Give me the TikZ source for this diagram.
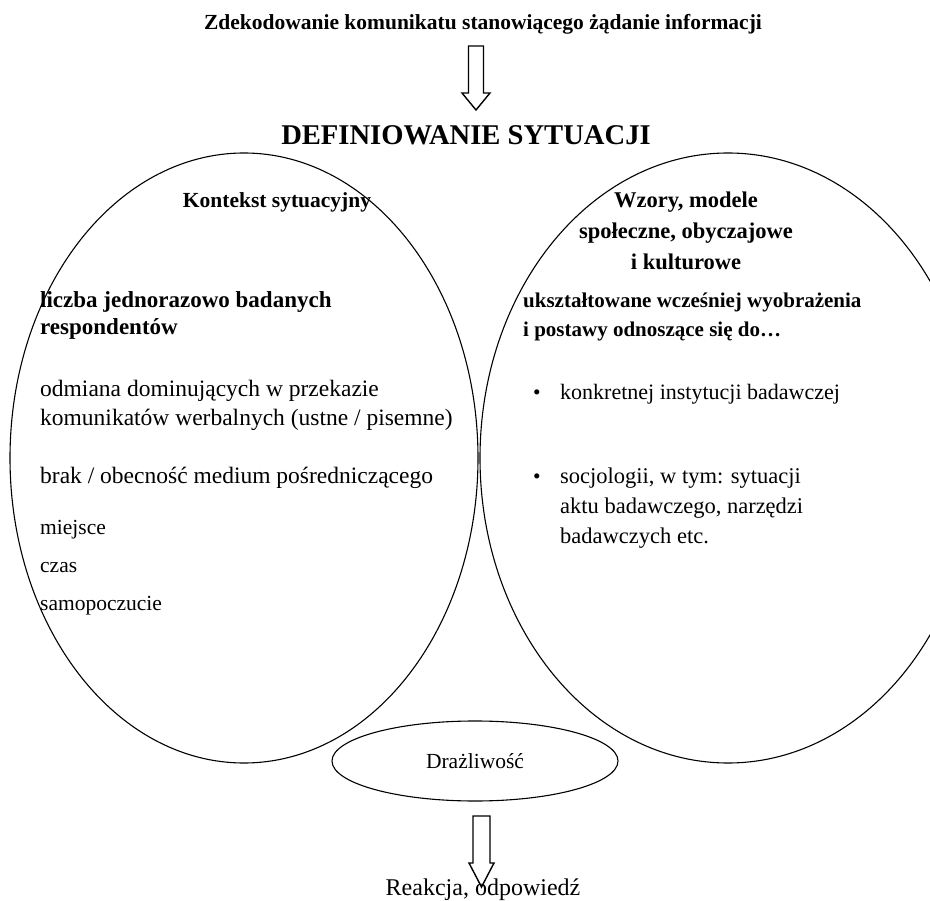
\documentclass[tikz,border=0pt]{standalone}
\usepackage{fontspec}
\setmainfont{Liberation Serif}
\usetikzlibrary{shapes.geometric,calc}

\begin{document}
\begin{tikzpicture}[x=1pt, y=-1pt,
  oval/.style={draw, ellipse, line width=1.1pt, inner sep=0pt},
  txt/.style={anchor=base west, inner sep=0pt, align=left,
              font=\fontsize{21.5}{29}\selectfont},
  bigtxt/.style={txt, font=\fontsize{23.5}{29}\selectfont},
  bold/.style={txt, font=\bfseries\fontsize{21}{29}\selectfont},
  hd/.style={anchor=base, inner sep=0pt, align=center,
             font=\bfseries\fontsize{21.5}{31}\selectfont},
  blk/.style={draw, line width=1.4pt, fill=white, line join=miter}]
\useasboundingbox (0,0) rectangle (930,901);
\clip (0,0) rectangle (930,901);
% headings
\node[hd] (zdk) at (483,30) {Zdekodowanie komunikatu stanowiącego żądanie informacji};
\node[hd, font=\bfseries\fontsize{28.6}{32}\selectfont] (def) at (466,145) {DEFINIOWANIE SYTUACJI};
\coordinate (a1) at (476,46);
\draw[blk] ($(a1)+(-7.5,0)$) -- ++(0,47) -- ++(-6.5,0) -- ++(14,17)
  -- ++(14,-17) -- ++(-6.5,0) -- ++(0,-47) -- cycle;
% two ellipses
\node[oval, minimum width=468pt, minimum height=610pt] (ctx) at (244,458) {};
\node[oval, minimum width=496pt, minimum height=610pt] (wzo) at (728,458) {};
\node[hd] (kon) at (277,208) {Kontekst sytuacyjny};
\node[hd, font=\bfseries\fontsize{22.5}{31}\selectfont] (wzr) at (686,270) {Wzory, modele\\społeczne, obyczajowe\\i kulturowe};
% left (anchored at last line)
\node[bold, font=\bfseries\fontsize{23}{27}\selectfont] (lic) at (40,335) {liczba jednorazowo badanych\\respondentów};
\node[bigtxt] (odm) at (40,426) {odmiana dominujących w przekazie\\komunikatów werbalnych (ustne / pisemne)};
\node[bigtxt] (brk) at (40,483) {brak / obecność medium pośredniczącego};
\node[txt] (mie) at (40,534) {miejsce};
\node[txt] (czs) at (40,572) {czas};
\node[txt] (sam) at (40,610) {samopoczucie};
% right
\node[bold] (uks) at (523,337) {ukształtowane wcześniej wyobrażenia\\i postawy odnoszące się do…};
\node[txt] (b1) at (533,400) {•};
\node[txt, font=\fontsize{22}{30}\selectfont] (ins) at (560,400) {konkretnej instytucji badawczej};
\node[txt] (b2) at (533,483) {•};
\node[txt, font=\fontsize{22.5}{30}\selectfont] (soc) at (560,543) {socjologii, w tym: sytuacji\\aktu badawczego, narzędzi\\badawczych etc.};
% bottom
\node[oval, minimum width=286pt, minimum height=80pt,
      font=\fontsize{21.5}{25}\selectfont] (drz) at (475,761) {Drażliwość};
\coordinate (a2) at (481.5,816);
\draw[blk] ($(a2)+(-8.5,0)$) -- ++(0,47) -- ++(-4,0) -- ++(12.5,24)
  -- ++(12.5,-24) -- ++(-4,0) -- ++(0,-47) -- cycle;
\node[hd, font=\fontsize{24}{28}\selectfont] (rea) at (483,895) {Reakcja, odpowiedź};
\end{tikzpicture}
\end{document}
